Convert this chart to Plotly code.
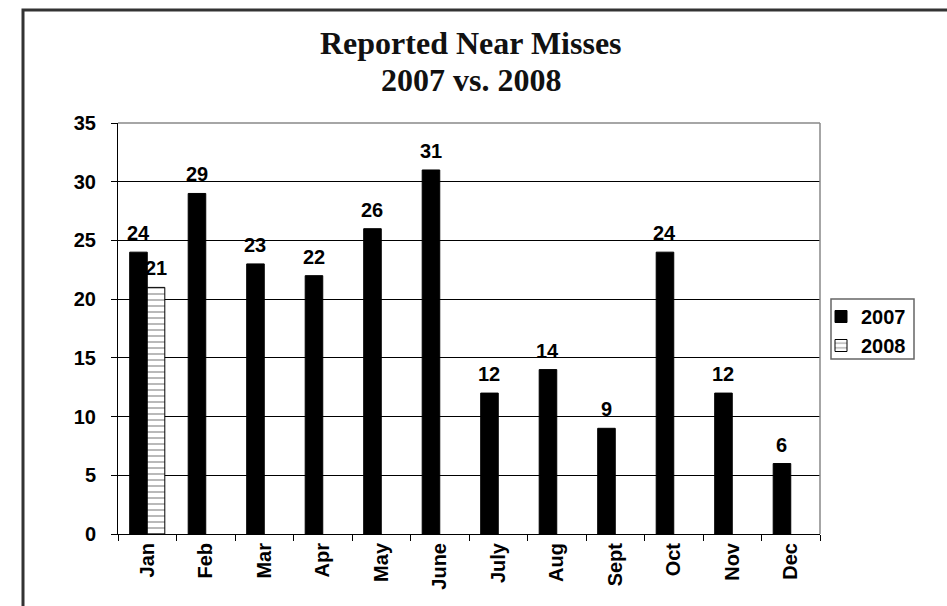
import plotly.graph_objects as go

months = ["Jan", "Feb", "Mar", "Apr", "May", "June", "July", "Aug", "Sept", "Oct", "Nov", "Dec"]
v2007 = [24, 29, 23, 22, 26, 31, 12, 14, 9, 24, 12, 6]
v2008 = [21, None, None, None, None, None, None, None, None, None, None, None]
y_ticks = [0, 5, 10, 15, 20, 25, 30, 35]
title_lines = ["Reported Near Misses", "2007 vs. 2008"]

W, H = 947, 606
ML, MR, MT, MB = 118, 127, 123, 72
PW, PH = W - ML - MR, H - MT - MB

def px_x(p):
    return (p - ML) / PW

def px_y(p):
    return (H - MB - p) / PH

lab_font = dict(family="Liberation Sans, Arial", size=20, color="black", weight="bold")
title_font = dict(family="Liberation Serif, Times New Roman", size=32, color="#111", weight="bold")

BARGAP = 0.4
bar_px = PW / len(months) * (1 - BARGAP) / 2

fig = go.Figure()
fig.add_trace(go.Bar(
    x=months, y=v2007, name="2007",
    marker=dict(color="black", line=dict(color="black", width=1)),
))
fig.add_trace(go.Bar(
    x=months, y=v2008, name="2008",
    marker=dict(color="white", line=dict(color="black", width=1),
                pattern=dict(shape="-", fgcolor="#444", bgcolor="white", size=6, solidity=0.25)),
))

# value labels above the bars
for series, sgn in ((v2007, -1), (v2008, 1)):
    for m, v in zip(months, series):
        if v is None:
            continue
        fig.add_annotation(x=m, y=v, text=str(v), showarrow=False, xanchor="center",
                           yanchor="bottom", xshift=sgn * bar_px / 2, yshift=6,
                           font=lab_font)

fig.update_layout(
    width=W, height=H,
    margin=dict(l=ML, r=MR, t=MT, b=MB),
    paper_bgcolor="white", plot_bgcolor="white",
    barmode="group", bargap=BARGAP, bargroupgap=0.0,
    showlegend=True,
    legend=dict(
        x=px_x(821), y=px_y(297), xanchor="left", yanchor="top",
        borderwidth=0, bgcolor="rgba(0,0,0,0)",
        font=lab_font, itemwidth=30, tracegroupgap=0,
    ),
)

for txt, yc in zip(title_lines, [43, 80]):
    fig.add_annotation(text=txt, xref="paper", yref="paper", x=px_x(471), y=px_y(yc),
                       xanchor="center", yanchor="middle", showarrow=False, font=title_font)

fig.update_xaxes(
    type="category", tickson="boundaries", ticks="outside", ticklen=6, tickcolor="black",
    showline=True, linecolor="black", linewidth=1, tickangle=-90,
    tickfont=lab_font, showgrid=False, zeroline=False,
)
fig.update_yaxes(
    range=[0, 35], tickvals=y_ticks, ticks="outside", ticklen=6, tickcolor="black",
    showline=True, linecolor="black", linewidth=1,
    showgrid=True, gridcolor="black", gridwidth=1, zeroline=False,
    tickfont=lab_font, ticklabelstandoff=11,
)

# plot area border (top & right, gray)
fig.add_shape(type="line", xref="paper", yref="paper", x0=0, x1=1, y0=1, y1=1,
              line=dict(color="#888", width=1.5), layer="above")
fig.add_shape(type="line", xref="paper", yref="paper", x0=1, x1=1, y0=0, y1=1,
              line=dict(color="#888", width=1.5), layer="above")
# legend box
fig.add_shape(type="rect", xref="paper", yref="paper",
              x0=px_x(831), x1=px_x(914), y0=px_y(359), y1=px_y(299),
              line=dict(color="#666", width=1.5), fillcolor="white", layer="below")
# outer chart frame (cropped at right & bottom)
fig.add_shape(type="rect", xref="paper", yref="paper",
              x0=px_x(23), x1=px_x(W + 20), y0=px_y(H + 20), y1=px_y(10),
              line=dict(color="#333", width=3), layer="below")

fig.write_html("out.html")
